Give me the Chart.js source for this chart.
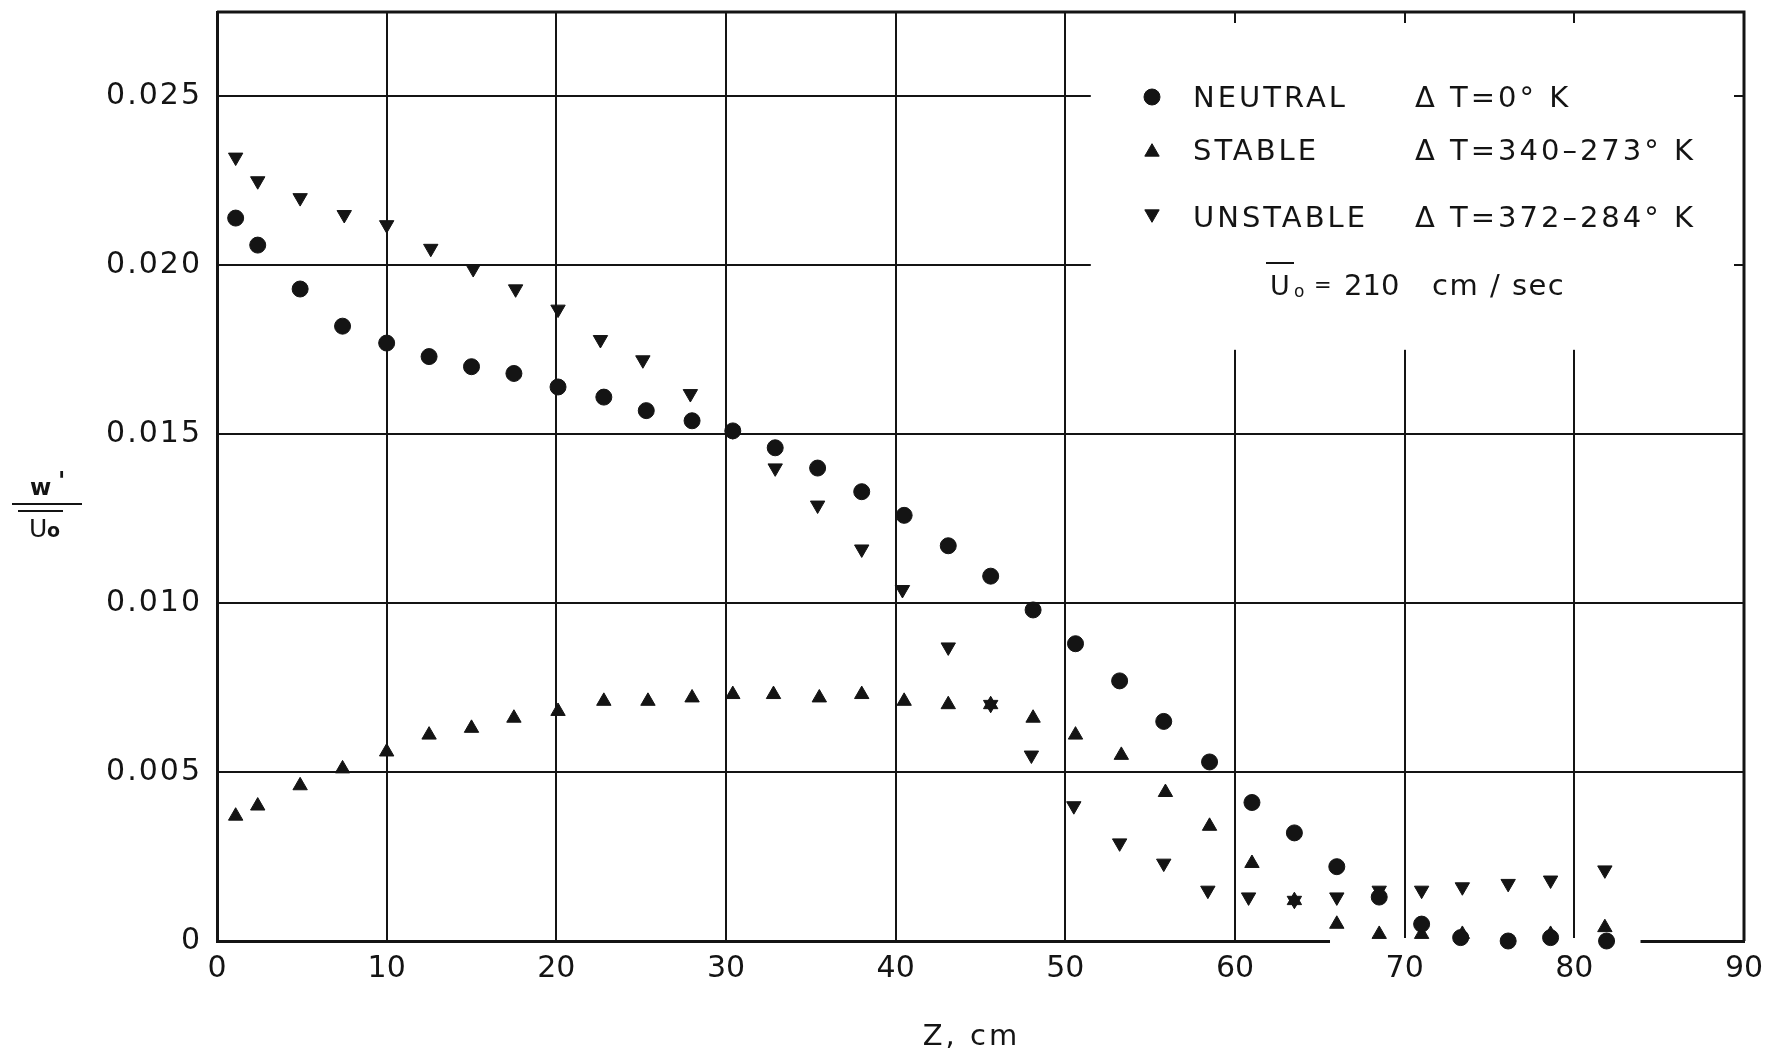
<!DOCTYPE html>
<html>
<head>
<meta charset="utf-8">
<title>w'/Uo - Z</title>
<script src="https://cdn.jsdelivr.net/npm/chart.js@4.4.1/dist/chart.umd.min.js"></script>
<style>
  html, body { margin: 0; padding: 0; background: #fff; }
  canvas { display: block; }
</style>
</head>
<body>
<canvas id="grafic" width="1765" height="1057"></canvas>
<script>
// --- Date ---
const seriesNames = ['NEUTRAL', 'STABLE', 'UNSTABLE'];
const deltaTLabels = ['Δ T=0° K', 'Δ T=340–273° K', 'Δ T=372–284° K'];
const velocityValue = '210';
const velocityUnit = 'cm / sec';
const xAxisTitle = 'Z, cm';

const xTickValues = [0, 10, 20, 30, 40, 50, 60, 70, 80, 90];
const xTickLabels = ['0', '10', '20', '30', '40', '50', '60', '70', '80', '90'];
const yTickValues = [0, 0.005, 0.010, 0.015, 0.020, 0.025];
const yTickLabels = ['0', '0.005', '0.010', '0.015', '0.020', '0.025'];

const zNeutral = [1.1, 2.4, 4.9, 7.4, 10.0, 12.5, 15.0, 17.5, 20.1, 22.8, 25.3, 28.0, 30.4, 32.9, 35.4, 38.0, 40.5,
    43.1, 45.6, 48.1, 50.6, 53.2, 55.8, 58.5, 61.0, 63.5, 66.0, 68.5, 71.0, 73.3, 76.1, 78.6, 81.9];
const wNeutral = [0.0214, 0.0206, 0.0193, 0.0182, 0.0177, 0.0173, 0.0170, 0.0168, 0.0164, 0.0161, 0.0157, 0.0154,
    0.0151, 0.0146, 0.0140, 0.0133, 0.0126, 0.0117, 0.0108, 0.0098, 0.0088, 0.0077, 0.0065, 0.0053, 0.0041,
    0.0032, 0.0022, 0.0013, 0.0005, 0.0001, 0.0000, 0.0001, 0.0000];

const zStable = [1.1, 2.4, 4.9, 7.4, 10.0, 12.5, 15.0, 17.5, 20.1, 22.8, 25.4, 28.0, 30.4, 32.8, 35.5, 38.0, 40.5,
    43.1, 45.6, 48.1, 50.6, 53.3, 55.9, 58.5, 61.0, 63.5, 66.0, 68.5, 71.0, 73.4, 78.6, 81.8];
const wStable = [0.0037, 0.0040, 0.0046, 0.0051, 0.0056, 0.0061, 0.0063, 0.0066, 0.0068, 0.0071, 0.0071, 0.0072,
    0.0073, 0.0073, 0.0072, 0.0073, 0.0071, 0.0070, 0.0070, 0.0066, 0.0061, 0.0055, 0.0044, 0.0034, 0.0023,
    0.0012, 0.0005, 0.0002, 0.0002, 0.0002, 0.0002, 0.0004];

const zUnstable = [1.1, 2.4, 4.9, 7.5, 10.0, 12.6, 15.1, 17.6, 20.1, 22.6, 25.1, 27.9, 30.4, 32.9, 35.4, 38.0, 40.4,
    43.1, 45.6, 48.0, 50.5, 53.2, 55.8, 58.4, 60.8, 63.5, 66.0, 68.5, 71.0, 73.4, 76.1, 78.6, 81.8];
const wUnstable = [0.0232, 0.0225, 0.0220, 0.0215, 0.0212, 0.0205, 0.0199, 0.0193, 0.0187, 0.0178, 0.0172, 0.0162,
    0.0151, 0.0140, 0.0129, 0.0116, 0.0104, 0.0087, 0.0070, 0.0055, 0.0040, 0.0029, 0.0023, 0.0015, 0.0013,
    0.0012, 0.0013, 0.0015, 0.0015, 0.0016, 0.0017, 0.0018, 0.0021];

// --- Stil si asezare ---
const INK = '#141414';
const FONT = '"DejaVu Sans", "Liberation Sans", sans-serif';
const markerStyles = [
    { pointStyle: 'circle', radius: 8, rotation: 0 },
    { pointStyle: 'triangle', radius: 8.3, rotation: 0 },
    { pointStyle: 'triangle', radius: 8.3, rotation: 180 }
];
// zona alba a legendei si intreruperea axei de jos (in unitati de date)
const legendLeftZ = 51.5;
const legendBottomW = 0.0175;
const gapFromZ = 65.6;
const gapToZ = 83.9;

function toPoints(xs, ys) {
    return xs.map((x, i) => ({ x: x, y: ys[i] }));
}

function labelFor(values, labels, v) {
    const i = values.findIndex(t => Math.abs(t - v) < 1e-9);
    return i >= 0 ? labels[i] : '';
}

function drawMarker(ctx, style, x, y) {
    ctx.fillStyle = INK;
    ctx.strokeStyle = INK;
    ctx.lineWidth = 1;
    Chart.helpers.drawPoint(ctx, {
        pointStyle: style.pointStyle, radius: style.radius, rotation: style.rotation, borderWidth: 1
    }, x, y);
}

// Inveleste o metoda de desenare a scalei (spatiere intre litere, mic decalaj orizontal)
function wrapScaleDraw(chart, scale, method, spacing, shiftX) {
    if (!scale || scale['_w_' + method]) return;
    const orig = scale[method].bind(scale);
    scale[method] = function (arg) {
        const ctx = chart.ctx;
        ctx.save();
        ctx.letterSpacing = spacing;
        ctx.translate(shiftX, 0);
        orig(arg);
        ctx.restore();
    };
    scale['_w_' + method] = true;
}

/**
 * Sterge grila in zona legendei si face golul din axa de jos.
 */
const gridCutouts = {
    id: 'gridCutouts',
    beforeDatasetsDraw(chart) {
        const { ctx, chartArea: a, scales: { x, y } } = chart;
        ctx.save();
        ctx.fillStyle = '#fff';
        const lx = x.getPixelForValue(legendLeftZ);
        const ly = y.getPixelForValue(legendBottomW);
        ctx.fillRect(lx, a.top + 11, a.right - 10 - lx, ly - a.top - 11);
        const g0 = x.getPixelForValue(gapFromZ);
        const g1 = x.getPixelForValue(gapToZ);
        ctx.fillRect(g0, a.bottom - 3, g1 - g0, 7);
        // chenarul de sus si din dreapta
        ctx.strokeStyle = INK;
        ctx.lineWidth = 3;
        ctx.beginPath();
        ctx.moveTo(a.left, a.top);
        ctx.lineTo(a.right, a.top);
        ctx.lineTo(a.right, a.bottom);
        ctx.stroke();
        ctx.restore();
    }
};

/**
 * Legenda din interior si titlul axei Y (fractia w'/Uo).
 */
const annotations = {
    id: 'annotations',
    beforeDraw(chart) {
        wrapScaleDraw(chart, chart.scales.y, 'drawLabels', '2px', 0);
        wrapScaleDraw(chart, chart.scales.x, 'drawTitle', '3px', -9);
    },
    afterDraw(chart) {
        const ctx = chart.ctx;
        ctx.save();
        ctx.fillStyle = INK;
        ctx.strokeStyle = INK;
        ctx.textBaseline = 'alphabetic';
        ctx.textAlign = 'left';

        // legenda
        const baselines = [107, 160, 227];
        const markerOffsets = [-10, -8, -13];
        seriesNames.forEach((name, i) => {
            drawMarker(ctx, markerStyles[i], 1152, baselines[i] + markerOffsets[i]);
            ctx.fillStyle = INK;
            ctx.font = '29px ' + FONT;
            ctx.letterSpacing = '3px';
            ctx.fillText(name, 1193, baselines[i]);
            ctx.fillText(deltaTLabels[i], 1415, baselines[i]);
        });

        // U0 = 210 cm / sec
        ctx.lineWidth = 2;
        ctx.beginPath();
        ctx.moveTo(1266, 263);
        ctx.lineTo(1294, 263);
        ctx.stroke();
        ctx.letterSpacing = '0px';
        ctx.font = '27px ' + FONT;
        ctx.fillText('U', 1270, 295);
        ctx.font = '17px ' + FONT;
        ctx.fillText('o', 1294, 297);
        ctx.font = '21px ' + FONT;
        ctx.fillText('=', 1314, 292);
        ctx.font = '29px ' + FONT;
        ctx.fillText(velocityValue, 1344, 295);
        ctx.letterSpacing = '1.5px';
        ctx.fillText(velocityUnit, 1432, 295);

        // titlul axei Y
        ctx.letterSpacing = '0px';
        ctx.font = 'bold 23px ' + FONT;
        ctx.fillText('w', 30, 495);
        ctx.font = 'bold 24px ' + FONT;
        ctx.fillText("'", 58, 489);
        ctx.lineWidth = 2;
        ctx.beginPath();
        ctx.moveTo(12, 504);
        ctx.lineTo(82, 504);
        ctx.moveTo(18, 511);
        ctx.lineTo(63, 511);
        ctx.stroke();
        ctx.font = '25px ' + FONT;
        ctx.fillText('U', 29, 537);
        ctx.font = 'bold 19px ' + FONT;
        ctx.fillText('o', 47, 537);
        ctx.restore();
    }
};

const datasets = [
    toPoints(zNeutral, wNeutral),
    toPoints(zStable, wStable),
    toPoints(zUnstable, wUnstable)
].map((data, i) => ({
    label: seriesNames[i],
    data: data,
    pointStyle: markerStyles[i].pointStyle,
    pointRadius: markerStyles[i].radius,
    pointRotation: markerStyles[i].rotation,
    backgroundColor: INK,
    borderColor: INK,
    borderWidth: 1,
    showLine: false,
    clip: false
}));

// --- Punctul de intrare ---
const chart = new Chart(document.getElementById('grafic'), {
    type: 'scatter',
    data: { datasets: datasets },
    options: {
        responsive: false,
        animation: false,
        events: [],
        layout: { padding: { top: 12, right: 21, left: 0, bottom: 0 } },
        plugins: {
            legend: { display: false },
            tooltip: { enabled: false }
        },
        scales: {
            x: {
                type: 'linear',
                min: 0,
                max: 90,
                afterBuildTicks: s => { s.ticks = xTickValues.map(v => ({ value: v })); },
                afterFit: s => {
                    s.height = 116;
                    s.paddingLeft = 0;
                    s.paddingRight = 0;
                },
                ticks: {
                    color: INK,
                    padding: 10,
                    maxRotation: 0,
                    font: { family: FONT, size: 30 },
                    callback: v => labelFor(xTickValues, xTickLabels, v)
                },
                grid: { color: INK, lineWidth: 2, drawTicks: false },
                border: { color: INK, width: 3 },
                title: {
                    display: true,
                    text: xAxisTitle,
                    color: INK,
                    font: { family: FONT, size: 29 },
                    padding: { top: 0, bottom: 2 }
                }
            },
            y: {
                type: 'linear',
                min: 0,
                max: 0.0275,
                afterBuildTicks: s => { s.ticks = yTickValues.map(v => ({ value: v })); },
                afterFit: s => {
                    s.width = 217;
                    s.paddingTop = 0;
                    s.paddingBottom = 0;
                },
                ticks: {
                    color: INK,
                    padding: 15,
                    font: { family: FONT, size: 30 },
                    callback: v => labelFor(yTickValues, yTickLabels, v)
                },
                grid: { color: INK, lineWidth: 2, drawTicks: false },
                border: { color: INK, width: 3 }
            }
        }
    },
    plugins: [gridCutouts, annotations]
});
</script>
</body>
</html>
